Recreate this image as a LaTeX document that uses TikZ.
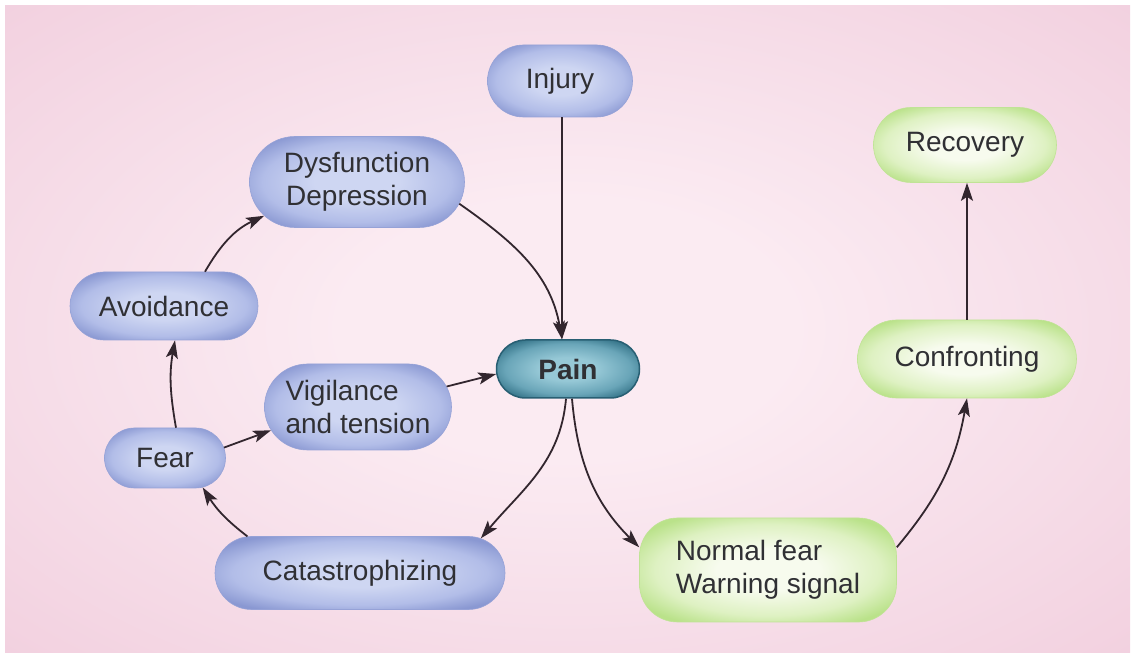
\documentclass[tikz,border=0pt]{standalone}
\usepackage{fontspec}
\setmainfont{Liberation Sans}
\usetikzlibrary{shapes.misc,arrows.meta}
\definecolor{bgin}{RGB}{251,235,242}
\definecolor{bgout}{RGB}{237,194,213}
\definecolor{txt}{RGB}{48,48,52}
\definecolor{arrowc}{RGB}{50,38,46}
\definecolor{bluein}{RGB}{206,214,242}
\definecolor{bluemid}{RGB}{178,189,232}
\definecolor{blueout}{RGB}{138,152,210}
\definecolor{blueline}{RGB}{150,162,215}
\definecolor{greenin}{RGB}{247,251,238}
\definecolor{greenmid}{RGB}{222,241,194}
\definecolor{greenout}{RGB}{186,226,138}
\definecolor{greenline}{RGB}{192,227,150}
\definecolor{painin}{RGB}{150,200,214}
\definecolor{painmid}{RGB}{105,165,184}
\definecolor{painout}{RGB}{52,115,136}
\definecolor{painline}{RGB}{40,95,115}
\pgfdeclareradialshading{bgshade}{\pgfpoint{0bp}{0bp}}{color(0bp)=(bgin); color(10bp)=(bgin); color(50bp)=(bgout); color(72bp)=(bgout)}
\pgfdeclareradialshading{blueshade}{\pgfpoint{0bp}{0bp}}{color(0bp)=(bluein); color(10bp)=(bluein); color(22bp)=(bluemid); color(30bp)=(blueout); color(50bp)=(blueout)}
\pgfdeclareradialshading{greenshade}{\pgfpoint{0bp}{0bp}}{color(0bp)=(greenin); color(10bp)=(greenin); color(22bp)=(greenmid); color(30bp)=(greenout); color(50bp)=(greenout)}
\pgfdeclareradialshading{painshade}{\pgfpoint{0bp}{0bp}}{color(0bp)=(painin); color(10bp)=(painin); color(22bp)=(painmid); color(30bp)=(painout); color(50bp)=(painout)}
\tikzset{
  box/.style={rounded rectangle, inner sep=0pt, text=txt, align=center,
    font=\fontsize{28}{33}\selectfont},
  bluebox/.style={box, shading=blueshade, draw=blueline, line width=0.6pt},
  greenbox/.style={box, shading=greenshade, draw=greenline, line width=0.6pt},
  painbox/.style={box, shading=painshade, draw=painline, line width=1.5pt,
    font=\fontsize{28}{33}\selectfont\bfseries},
  arr/.style={-{Stealth[length=18pt,width=12pt,inset=4pt]}, line width=1.8pt, draw=arrowc},
}
\begin{document}
\begin{tikzpicture}[x=1pt,y=1pt]
\useasboundingbox (0,0) rectangle (1133,659);
\fill[white] (0,0) rectangle (1133,659);
\shade[shading=bgshade] (5,7) rectangle (1130,653);

\node[bluebox, minimum width=145pt, minimum height=72pt] (inj) at (560,578) {Injury};
\node[bluebox, minimum width=215pt, minimum height=91pt] (dys) at (357,477) {Dysfunction\\Depression};
\node[bluebox, minimum width=188pt, minimum height=68pt] (avoid) at (164,353) {Avoidance};
\node[bluebox, minimum width=187pt, minimum height=86pt, align=left] (vig) at (358,252) {Vigilance\\and tension};
\node[painbox, minimum width=143pt, minimum height=58pt] (pain) at (568,290) {Pain};
\node[bluebox, minimum width=121pt, minimum height=60pt] (fear) at (165,201) {Fear};
\node[bluebox, minimum width=290pt, minimum height=73pt] (cat) at (360,86) {Catastrophizing};
\node[box, rectangle, rounded corners=38pt, shading=greenshade, draw=greenline, line width=0.6pt,
  minimum width=257pt, minimum height=104pt, align=left] (normal) at (768,89) {Normal fear\\Warning signal};
\node[greenbox, minimum width=219pt, minimum height=78pt] (conf) at (967,300) {Confronting};
\node[greenbox, minimum width=183pt, minimum height=75pt] (rec) at (965,514) {Recovery};

\coordinate (ptop) at ([xshift=-6pt]pain.north);
\draw[arr] (inj.south -| ptop) -- (ptop);
\draw[arr] (dys.-12) to[out=-35,in=100] (ptop);
\draw[arr] (vig.13) -- (pain.184);
\draw[arr] (fear.10) -- (vig.195);
\draw[arr] ([xshift=11pt]fear.north) to[out=100,in=-100] ([xshift=11pt]avoid.south);
\draw[arr] ([xshift=41pt]avoid.north) to[out=60,in=205] (dys.200);
\draw[arr] (cat.162) to[bend left=10] (fear.-38);
\draw[arr] ([xshift=-2pt]pain.south) to[out=-95,in=50] (cat.16);
\draw[arr] ([xshift=4pt]pain.south) to[out=-85,in=135] (normal.170);
\draw[arr] (normal.10) to[out=50,in=-100] (conf.south);
\draw[arr] (conf.north) -- (conf.north |- rec.south);
\end{tikzpicture}
\end{document}
